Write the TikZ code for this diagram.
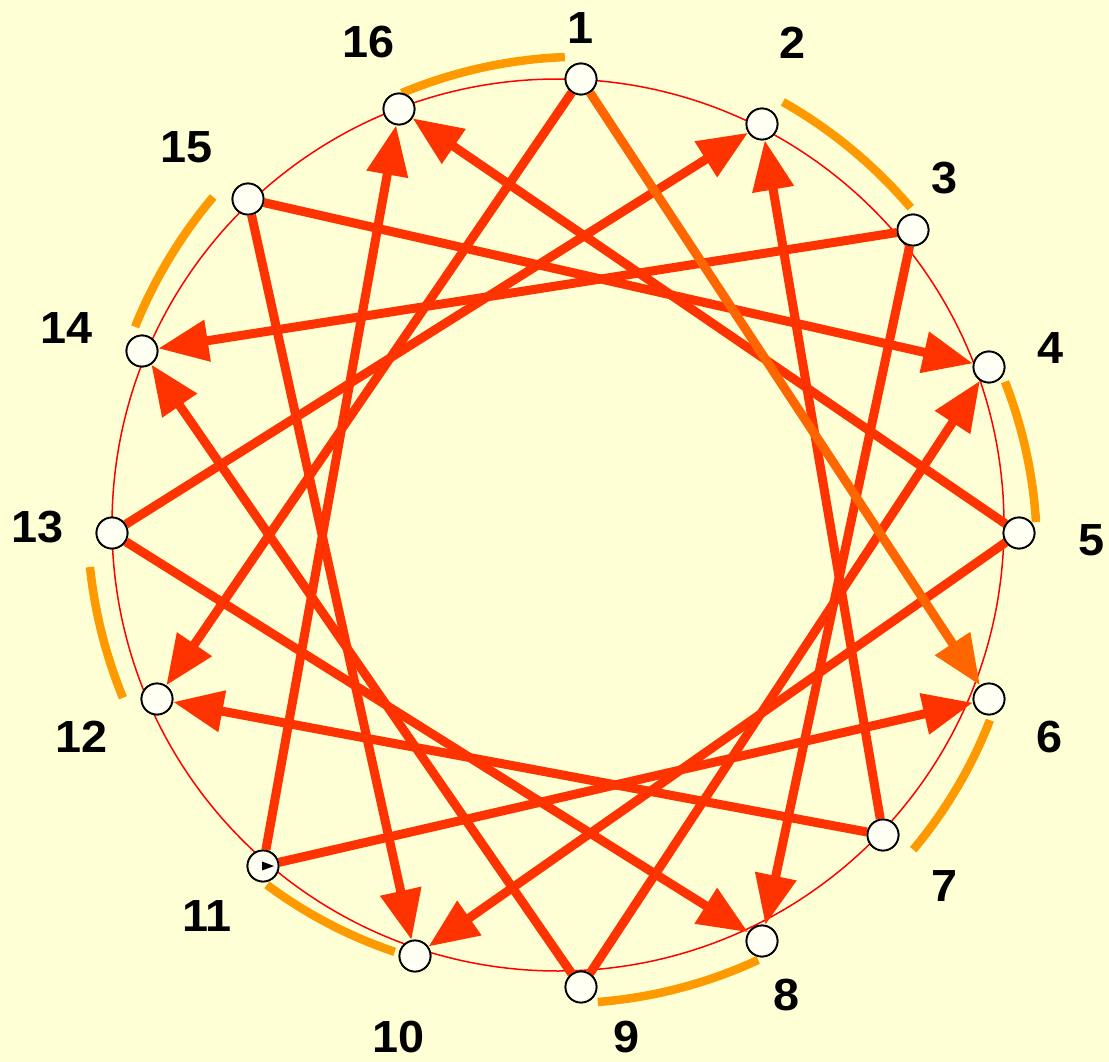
\documentclass[tikz,border=0pt]{standalone}
\usepackage{fontspec}
\setmainfont{Liberation Sans}[FakeStretch=1.04]
\usetikzlibrary{arrows.meta}
\definecolor{bg}{HTML}{FFFFD6}
\definecolor{edgec}{HTML}{FF3300}
\definecolor{edgeb}{HTML}{FF6600}
\definecolor{arcc}{HTML}{FF9900}
\definecolor{ringc}{HTML}{FF0000}
\definecolor{nodefill}{HTML}{FFFFF4}
\newcommand\segarc[4]{\draw[seg] plot[domain=0:1,samples=40,variable=\t]
  ({569+(#2+(#4-#2)*\t)*cos(#1+(#3-#1)*\t)},{531+(#2+(#4-#2)*\t)*sin(#1+(#3-#1)*\t)});}
\begin{document}
\begin{tikzpicture}[x=1pt,y=-1pt,
  vert/.style={circle,draw=black,line width=1.8pt,fill=nodefill,minimum size=31pt,inner sep=0pt},
  lab/.style={font=\fontsize{45}{45}\selectfont\bfseries,inner sep=0pt},
  link/.style={draw=edgec,line width=9pt,-{Triangle[length=50pt,width=40pt]}},
  seg/.style={draw=arcc,line width=8.5pt}]
\fill[bg] (0,0) rectangle (1109,1062);
\useasboundingbox (0,0) rectangle (1109,1062);
% ring
\draw[ringc,line width=1.5pt] (558,525) circle[radius=446];
% orange arcs
\segarc{-110.9}{468.8}{-90.5}{474}
\segarc{-63.5}{479.4}{-43.4}{470.4}
\segarc{-18.9}{460.8}{-1.1}{467.1}
\segarc{24.2}{461.5}{42.8}{469.1}
\segarc{66.2}{468.8}{86.5}{471.9}
\segarc{112.5}{455.5}{130.5}{465.3}
\segarc{159.5}{476.2}{175.7}{480.4}
\segarc{205.2}{479.6}{223.2}{488.1}
% vertices
\node[vert] (n1) at (581,79) {};
\node[vert] (n2) at (762,124) {};
\node[vert] (n3) at (913,230) {};
\node[vert] (n4) at (989,367) {};
\node[vert] (n5) at (1019,533) {};
\node[vert] (n6) at (989,699) {};
\node[vert] (n7) at (883,835) {};
\node[vert] (n8) at (762,941) {};
\node[vert] (n9) at (581,987) {};
\node[vert] (n10) at (415,956) {};
\node[vert] (n11) at (263,866) {};
\node[vert] (n12) at (157,699) {};
\node[vert] (n13) at (112,533) {};
\node[vert] (n14) at (142,351) {};
\node[vert] (n15) at (248,199) {};
\node[vert] (n16) at (399,109) {};
% edges
\draw[link] (n1) -- (n12);
\draw[link] (n7) -- (n2);
\draw[link] (n13) -- (n2);
\draw[link] (n3) -- (n14);
\draw[link] (n3) -- (n8);
\draw[link] (n15) -- (n4);
\draw[link] (n9) -- (n4);
\draw[link] (n5) -- (n16);
\draw[link] (n5) -- (n10);
\draw[link] (n11) -- (n6);
\draw[link] (n7) -- (n12);
\draw[link] (n13) -- (n8);
\draw[link] (n9) -- (n14);
\draw[link] (n15) -- (n10);
\draw[link] (n11) -- (n16);
\draw[link,draw=edgeb] (n1) -- (n6);
% redraw vertices on top
\foreach \i/\x/\y in {1/581/79,2/762/124,3/913/230,4/989/367,5/1019/533,6/989/699,7/883/835,8/762/941,9/581/987,10/415/956,11/263/866,12/157/699,13/112/533,14/142/351,15/248/199,16/399/109}
  \node[vert] (v\i) at (\x,\y) {};
\fill[black] (262,861.5) -- (274,866) -- (262,870.5) -- cycle;
% labels
\node[lab] (l1) at (581,28) {1};
\node[lab] (l2) at (793,43) {2};
\node[lab] (l3) at (945,178) {3};
\node[lab] (l4) at (1051,348) {4};
\node[lab] (l5) at (1092,540) {5};
\node[lab] (l6) at (1050,737) {6};
\node[lab] (l7) at (945,886) {7};
\node[lab] (l8) at (787,995) {8};
\node[lab] (l9) at (627,1037) {9};
\node[lab] (l10) at (399,1037) {10};
\node[lab] (l11) at (207,916) {11};
\node[lab] (l12) at (82,737) {12};
\node[lab] (l13) at (38,527) {13};
\node[lab] (l14) at (67,328) {14};
\node[lab] (l15) at (187,147) {15};
\node[lab] (l16) at (369,42) {16};
\end{tikzpicture}
\end{document}
